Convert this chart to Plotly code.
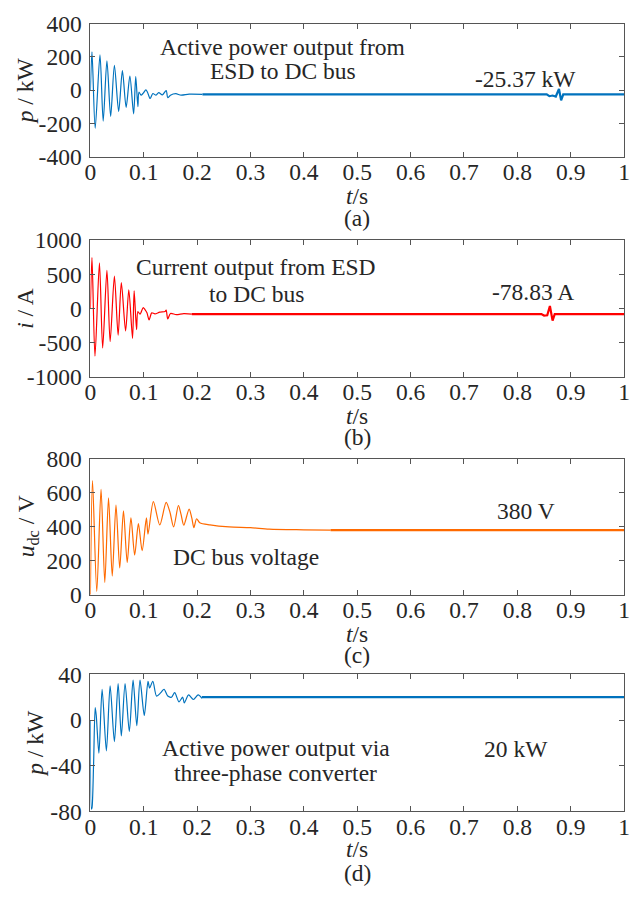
import plotly.graph_objects as go

W, H = 635, 903

# ---------------- data ----------------
# (a) active power ESD -> DC bus, kW
t_a = [0, 0.003, 0.009, 0.018, 0.024, 0.031, 0.038, 0.045, 0.053, 0.060, 0.067,
       0.074, 0.081, 0.085, 0.089, 0.091, 0.095, 0.099, 0.104, 0.107, 0.112, 0.117,
       0.123, 0.128, 0.135, 0.142, 0.145, 0.150, 0.160, 0.170, 0.185, 0.21]
p_a = [0, 231, -229, 212, -186, 177, -157, 150, -128, 118, -103,
       85, -142, 82, -99, -12, -30, -18, 2, -12, -50, -20,
       -30, -15, -28, -2, -45, -30, -21, -30, -24, -25.37]
t_a2 = [0.21, 0.855, 0.860, 0.866, 0.872, 0.878, 0.882, 0.886, 1.0]
p_a2 = [-25.37, -25.37, -36, -32, -38, 7, -61, -25.37, -25.37]

# (b) current ESD -> DC bus, A
t_b = [0, 0.003, 0.0086, 0.017, 0.023, 0.031, 0.037, 0.045, 0.052, 0.058, 0.066,
       0.072, 0.079, 0.082, 0.0865, 0.089, 0.093, 0.099, 0.102, 0.106, 0.110, 0.115,
       0.121, 0.130, 0.140, 0.142, 0.145, 0.150, 0.161, 0.175, 0.19]
i_b = [0, 749, -694, 669, -574, 560, -480, 475, -385, 380, -324,
       277, -433, 262, -305, -40, -80, 17, -10, -60, -163, -60,
       -75, -50, -40, -20, -150, -70, -87, -72, -78.83]
t_b2 = [0.19, 0.845, 0.850, 0.856, 0.861, 0.866, 0.870, 1.0]
i_b2 = [-78.83, -78.83, -100, -95, 40, -173, -78.83, -78.83]

# (c) DC bus voltage, V
t_c = [0, 0.004, 0.012, 0.020, 0.027, 0.034, 0.041, 0.048, 0.055, 0.062, 0.069,
       0.076, 0.083, 0.090, 0.097, 0.105, 0.108, 0.118, 0.130, 0.142, 0.149,
       0.156, 0.165, 0.170, 0.175, 0.185, 0.190, 0.194, 0.199, 0.205, 0.224,
       0.26, 0.30, 0.335, 0.40, 0.45]
u_c = [0, 671, 19, 620, 72, 570, 110, 528, 158, 494, 190,
       452, 234, 418, 259, 452, 357, 548, 411, 544, 487,
       399, 525, 471, 409, 504, 452, 395, 447, 424, 411,
       399, 395, 386, 382, 380]
t_c2 = [0.45, 1.0]
u_c2 = [380, 380]

# (d) active power via three-phase converter, kW
t_d = [0, 0.002, 0.003, 0.006, 0.009, 0.011, 0.016, 0.022, 0.030, 0.037, 0.045,
       0.052, 0.058, 0.065, 0.073, 0.080, 0.087, 0.093, 0.101, 0.108, 0.111,
       0.117, 0.124, 0.132, 0.138, 0.145, 0.152, 0.158, 0.166, 0.173, 0.176,
       0.184, 0.193, 0.202, 0.209]
p_d = [0, -78, -77, -39, 11, 4, -29, 27, -27, 30, -19,
       32, -14, 32, -10, 35, -5, 35, 4, 34, 28,
       34, 21, 24, 27, 21, 20, 24, 16, 20, 15,
       22, 18, 22, 19]
t_d2 = [0.209, 1.0]
p_d2 = [20, 20]

x_ticks = [0, 0.1, 0.2, 0.3, 0.4, 0.5, 0.6, 0.7, 0.8, 0.9, 1]
x_tick_text = ["0", "0.1", "0.2", "0.3", "0.4", "0.5", "0.6", "0.7", "0.8", "0.9", "1"]
y_ticks_a = [-400, -200, 0, 200, 400]
y_text_a = ["-400", "-200", "0", "200", "400"]
y_ticks_b = [-1000, -500, 0, 500, 1000]
y_text_b = ["-1000", "-500", "0", "500", "1000"]
y_ticks_c = [0, 200, 400, 600, 800]
y_text_c = ["0", "200", "400", "600", "800"]
y_ticks_d = [-80, -40, 0, 40]
y_text_d = ["-80", "-40", "0", "40"]

# ---------------- layout helpers ----------------
FONT = "Liberation Serif"
TXT = "#262626"
AX = "#555555"
FS = 23.5


def px_x(x):
    return x / W


def px_y(y):
    return 1 - y / H


left, right = 86, 630
panels = [
    (11, 148, [-400, 400], y_ticks_a, y_text_a),
    (234, 375, [-1000, 1000], y_ticks_b, y_text_b),
    (459, 599, [0, 800], y_ticks_c, y_text_c),
    (681, 822, [-80, 40], y_ticks_d, y_text_d),
]

fig = go.Figure()
series = [
    (t_a, p_a, t_a2, p_a2, "#0072BD"),
    (t_b, i_b, t_b2, i_b2, "#FF0000"),
    (t_c, u_c, t_c2, u_c2, "#FF6A00"),
    (t_d, p_d, t_d2, p_d2, "#0072BD"),
]
for k, (tt, vv, tt2, vv2, col) in enumerate(series):
    ax = "" if k == 0 else str(k + 1)
    fig.add_trace(go.Scatter(x=tt, y=vv, mode="lines",
                             line=dict(color=col, width=1.2, shape="spline", smoothing=0.8),
                             xaxis="x" + ax, yaxis="y" + ax, showlegend=False))
    fig.add_trace(go.Scatter(x=tt2, y=vv2, mode="lines", line=dict(color=col, width=2.2),
                             xaxis="x" + ax, yaxis="y" + ax, showlegend=False))

layout = dict(width=W, height=H, margin=dict(l=0, r=0, t=0, b=0),
              paper_bgcolor="white", plot_bgcolor="white",
              font=dict(family=FONT, size=FS, color=TXT), showlegend=False)
for k, (top, bot, rng, yt, ytt) in enumerate(panels):
    ax = "" if k == 0 else str(k + 1)
    layout["xaxis" + ax] = dict(domain=[px_x(left), px_x(right)], range=[0, 1],
                                anchor="y" + ax, tickvals=x_ticks, ticktext=x_tick_text,
                                ticks="inside", ticklen=5, tickcolor=AX, showline=True,
                                linecolor=AX, linewidth=1, mirror="ticks", showgrid=False,
                                zeroline=False, ticklabelstandoff=-6,
                                ticklabeloverflow="allow",
                                tickfont=dict(size=FS, color=TXT, family=FONT))
    layout["yaxis" + ax] = dict(domain=[px_y(bot), px_y(top)], range=rng,
                                anchor="x" + ax, tickvals=yt, ticktext=ytt,
                                ticks="inside", ticklen=5, tickcolor=AX, showline=True,
                                linecolor=AX, linewidth=1, mirror="ticks", showgrid=False,
                                zeroline=False, ticklabelstandoff=3,
                                ticklabeloverflow="allow",
                                tickfont=dict(size=FS, color=TXT, family=FONT))

anns = []


def ann(text, x, y, angle=0, size=FS):
    anns.append(dict(text=text, x=px_x(x), y=px_y(y), xref="paper", yref="paper",
                     showarrow=False, textangle=angle, xanchor="center", yanchor="middle",
                     font=dict(family=FONT, size=size, color=TXT)))


# panel texts
ann("Active power output from", 282, 35)
ann("ESD to DC bus", 282, 60)
ann("-25.37 kW", 530, 68)
ann("Current output from ESD", 255, 262)
ann("to DC bus", 255, 289)
ann("-78.83 A", 537, 287)
ann("380 V", 530, 513)
ann("DC bus voltage", 245, 560)
ann("20 kW", 520, 758)
ann("Active power output via", 275, 757)
ann("three-phase converter", 275, 783)

# y titles
ann("<i>p</i> / kW", 19, 80, -90)
ann("<i>i</i> / A", 20, 304, -90)
ann("<i>u</i><sub>dc</sub> / V", 22, 529, -90)
ann("<i>p</i> / kW", 30, 752, -90)

# x titles and panel labels
for y_ts, y_lab, lab in [(188, 211, "(a)"), (415, 437, "(b)"), (639, 661, "(c)"), (861, 885, "(d)")]:
    ann("<i>t</i>/s", 358, y_ts)
    ann(lab, 358, y_lab)

layout["annotations"] = anns
fig.update_layout(**layout)
fig.write_html("out.html")
